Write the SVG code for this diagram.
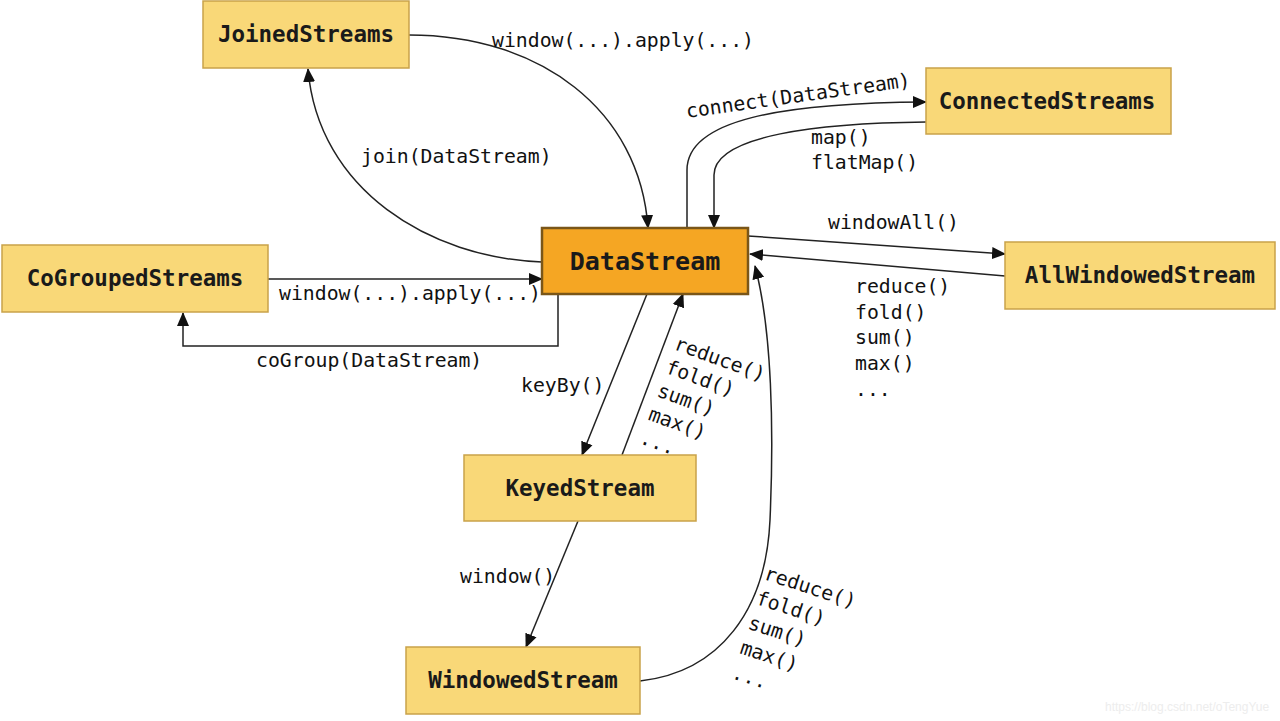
<svg xmlns="http://www.w3.org/2000/svg" width="1280" height="721" viewBox="0 0 1280 721">
<style>
.node rect{fill:#F9D878;stroke:#C9A24A;stroke-width:1.5}
.node text{font-family:"DejaVu Sans Mono","Liberation Mono",monospace;font-weight:bold;font-size:22.5px;fill:#1a1a1a;text-anchor:middle}
#DataStream rect{fill:#F5A623;stroke:#7A5618;stroke-width:2.5}
#DataStream text{font-size:25px}
.edges path{fill:none;stroke:#222;stroke-width:1.5}
.lbl{font-family:"DejaVu Sans Mono","Liberation Mono",monospace;font-size:19.8px;fill:#111}
.wm{font-family:"Liberation Sans",Arial,sans-serif;font-size:12px;fill:#ededed}
</style>
<defs>
<marker id="arr" markerWidth="14" markerHeight="13" refX="13" refY="6.5" orient="auto" markerUnits="userSpaceOnUse">
<path d="M0,0.5 L14,6.5 L0,12.5 z" fill="#111"/>
</marker>
</defs>
<rect width="1280" height="721" fill="#ffffff"/>
<g class="edges" marker-end="url(#arr)">
<path d="M409,35 C540,35 640,110 648,228"/>
<path d="M542,262 C430,258 318,190 308,69"/>
<path d="M687,228 V170 C687,120 780,103 926,102"/>
<path d="M926,122 C820,123 714,135 714,175 V228"/>
<path d="M748,236 L1005,254"/>
<path d="M1005,276 L750,254"/>
<path d="M268,279 H542"/>
<path d="M558,294 V346 H183 V313"/>
<path d="M647,294 L582,455"/>
<path d="M622,455 L683,294"/>
<path d="M578,521 L526,647"/>
<path d="M640,681 C720,672 766,610 770,520 C774,430 772,330 755,266"/>
</g>
<g id="JoinedStreams" class="node"><rect x="203" y="1" width="206" height="67"/><text x="306" y="42">JoinedStreams</text></g>
<g id="ConnectedStreams" class="node"><rect x="926" y="68" width="245" height="66"/><text x="1047" y="109">ConnectedStreams</text></g>
<g id="DataStream" class="node"><rect x="542" y="228" width="206" height="66"/><text x="645" y="270">DataStream</text></g>
<g id="CoGroupedStreams" class="node"><rect x="2" y="245" width="266" height="67"/><text x="135" y="286">CoGroupedStreams</text></g>
<g id="AllWindowedStream" class="node"><rect x="1005" y="242" width="270" height="67"/><text x="1140" y="283">AllWindowedStream</text></g>
<g id="KeyedStream" class="node"><rect x="464" y="455" width="232" height="66"/><text x="580" y="496">KeyedStream</text></g>
<g id="WindowedStream" class="node"><rect x="406" y="647" width="234" height="67"/><text x="523" y="688">WindowedStream</text></g>
<g id="labels" class="lbl">
<text x="492" y="47">window(...).apply(...)</text>
<text transform="translate(687,118) rotate(-8)">connect(DataStream)</text>
<text x="811" y="144">map()</text>
<text x="811" y="169">flatMap()</text>
<text x="361" y="163">join(DataStream)</text>
<text x="828" y="229">windowAll()</text>
<text x="279" y="300">window(...).apply(...)</text>
<text x="256" y="367">coGroup(DataStream)</text>
<text x="855" y="293">reduce()</text>
<text x="855" y="319">fold()</text>
<text x="855" y="344">sum()</text>
<text x="855" y="370">max()</text>
<text x="855" y="396">...</text>
<text x="521" y="392">keyBy()</text>
<g transform="translate(673,349) rotate(20)">
<text x="0" y="0">reduce()</text>
<text x="0" y="25">fold()</text>
<text x="0" y="50">sum()</text>
<text x="0" y="75">max()</text>
<text x="0" y="100">...</text>
</g>
<text x="460" y="583">window()</text>
<g transform="translate(763,579) rotate(18)">
<text x="0" y="0">reduce()</text>
<text x="0" y="26">fold()</text>
<text x="0" y="52">sum()</text>
<text x="0" y="78">max()</text>
<text x="0" y="104">...</text>
</g>
</g>
<text class="wm" x="1105" y="711">https://blog.csdn.net/oTengYue</text>
</svg>
